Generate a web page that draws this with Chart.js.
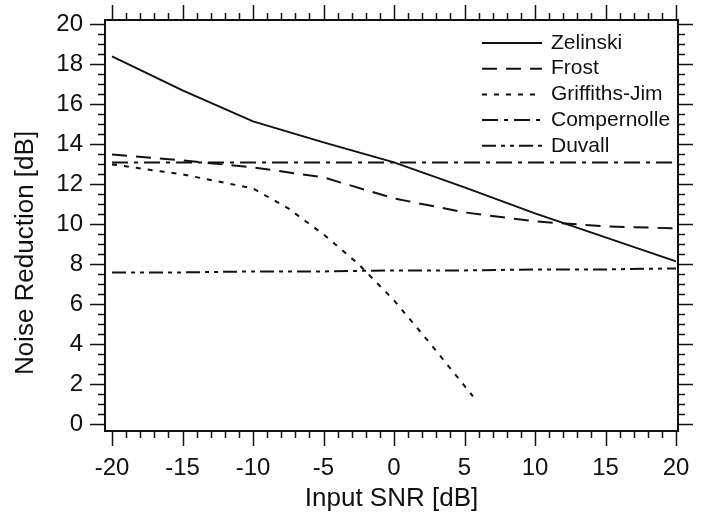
<!DOCTYPE html>
<html>
<head>
<meta charset="utf-8">
<script src="https://cdn.jsdelivr.net/npm/chart.js@4.4.1/dist/chart.umd.min.js"></script>
<style>
  html, body { margin: 0; padding: 0; background: #fff; }
</style>
</head>
<body>
<canvas id="grafico" width="704" height="519"></canvas>
<script>
// valores
const snr = [-20, -15, -10, -5, 0, 5, 10, 15, 20];
const zelinski = [18.4, 16.7, 15.15, 14.1, 13.1, 11.85, 10.55, 9.35, 8.15];
const frost = [13.5, 13.2, 12.85, 12.35, 11.3, 10.6, 10.15, 9.9, 9.8];
const griffithsSnr = [-20, -15, -10, -7.5, -5, -2.5, 0, 2.5, 5.6];
const griffithsJim = [13.0, 12.5, 11.8, 10.8, 9.5, 8.0, 6.2, 4.1, 1.4];
const compernolle = [13.1, 13.1, 13.1, 13.1, 13.1, 13.1, 13.1, 13.1, 13.1];
const duvall = [7.6, 7.6, 7.65, 7.65, 7.7, 7.7, 7.75, 7.75, 7.8];

const xTicks = [-20, -15, -10, -5, 0, 5, 10, 15, 20];
const yTicks = [0, 2, 4, 6, 8, 10, 12, 14, 16, 18, 20];

const tinta = '#111';
const fuente = '"Liberation Sans", Arial, Helvetica, sans-serif';

function serie(label, xs, ys, dash) {
  return {
    label: label,
    data: xs.map((v, i) => ({ x: v, y: ys[i] })),
    borderColor: tinta,
    borderWidth: 2,
    borderDash: dash,
    pointRadius: 0,
    tension: 0,
    fill: false
  };
}

function sinRelleno(scale) {
  scale.paddingTop = 0;
  scale.paddingBottom = 0;
  scale.paddingLeft = 0;
  scale.paddingRight = 0;
}

// marco, ticks mayores y menores en los cuatro lados
const marco = {
  id: 'marco',
  afterDatasetsDraw(chart) {
    const { ctx, chartArea: a, scales: { x, y } } = chart;
    ctx.save();
    ctx.strokeStyle = tinta;
    ctx.lineWidth = 2;
    ctx.strokeRect(a.left, a.top, a.right - a.left, a.bottom - a.top);
    ctx.lineWidth = 1.5;
    ctx.beginPath();
    for (let v = -20; v <= 20; v++) {
      const px = Math.round(x.getPixelForValue(v)) + 0.5;
      const len = v % 5 === 0 ? 15 : 7;
      ctx.moveTo(px, a.bottom); ctx.lineTo(px, a.bottom + len);
      ctx.moveTo(px, a.top); ctx.lineTo(px, a.top - len);
    }
    for (let v = 0; v <= 20; v += 0.5) {
      const py = Math.round(y.getPixelForValue(v)) + 0.5;
      const len = v % 2 === 0 ? 15 : 7;
      ctx.moveTo(a.left, py); ctx.lineTo(a.left - len, py);
      ctx.moveTo(a.right, py); ctx.lineTo(a.right + len, py);
    }
    ctx.stroke();

    // titulo del eje y
    ctx.fillStyle = tinta;
    ctx.font = '26px ' + fuente;
    ctx.translate(26, 253);
    ctx.rotate(-Math.PI / 2);
    ctx.textAlign = 'center';
    ctx.textBaseline = 'middle';
    ctx.fillText('Noise Reduction [dB]', 0, 0);
    ctx.restore();
  }
};

// leyenda dentro del area del grafico
const leyenda = {
  id: 'leyenda',
  afterDatasetsDraw(chart) {
    const { ctx, chartArea: a } = chart;
    const x0 = a.right - 196;
    const y0 = a.top + 23;
    ctx.save();
    ctx.font = '21px ' + fuente;
    ctx.textBaseline = 'middle';
    ctx.fillStyle = tinta;
    chart.data.datasets.forEach((ds, i) => {
      const yy = y0 + i * 25.7;
      ctx.strokeStyle = tinta;
      ctx.lineWidth = 2;
      ctx.setLineDash(ds.borderDash || []);
      ctx.beginPath();
      ctx.moveTo(x0, yy);
      ctx.lineTo(x0 + 60, yy);
      ctx.stroke();
      ctx.setLineDash([]);
      ctx.fillText(ds.label, x0 + 69, yy);
    });
    ctx.restore();
  }
};

new Chart(document.getElementById('grafico'), {
  type: 'line',
  data: {
    datasets: [
      serie('Zelinski', snr, zelinski, []),
      serie('Frost', snr, frost, [15, 9]),
      serie('Griffiths-Jim', griffithsSnr, griffithsJim, [5, 7]),
      serie('Compernolle', snr, compernolle, [16, 6, 4, 6]),
      serie('Duvall', snr, duvall, [14, 5, 4, 5, 4, 5])
    ]
  },
  options: {
    responsive: false,
    animation: false,
    devicePixelRatio: 1,
    layout: { padding: { left: 11, right: 26, top: 20, bottom: 5 } },
    plugins: {
      legend: { display: false },
      tooltip: { enabled: false }
    },
    scales: {
      x: {
        type: 'linear',
        min: -20.5,
        max: 20.14,
        afterBuildTicks: (scale) => { scale.ticks = xTicks.map(v => ({ value: v })); },
        afterFit: (scale) => { scale.height = 83; sinRelleno(scale); },
        grid: { display: false, drawTicks: false },
        border: { display: false },
        ticks: {
          autoSkip: false,
          maxRotation: 0,
          padding: 23,
          color: tinta,
          font: { family: fuente, size: 24 }
        },
        title: {
          display: true,
          text: 'Input SNR [dB]',
          color: tinta,
          font: { family: fuente, size: 26 },
          padding: 0
        }
      },
      y: {
        type: 'linear',
        min: -0.33,
        max: 20.22,
        afterBuildTicks: (scale) => { scale.ticks = yTicks.map(v => ({ value: v })); },
        afterFit: (scale) => { scale.width = 94; sinRelleno(scale); },
        grid: { display: false, drawTicks: false },
        border: { display: false },
        ticks: {
          autoSkip: false,
          padding: 22,
          color: tinta,
          font: { family: fuente, size: 24 }
        }
      }
    }
  },
  plugins: [marco, leyenda]
});
</script>
</body>
</html>
